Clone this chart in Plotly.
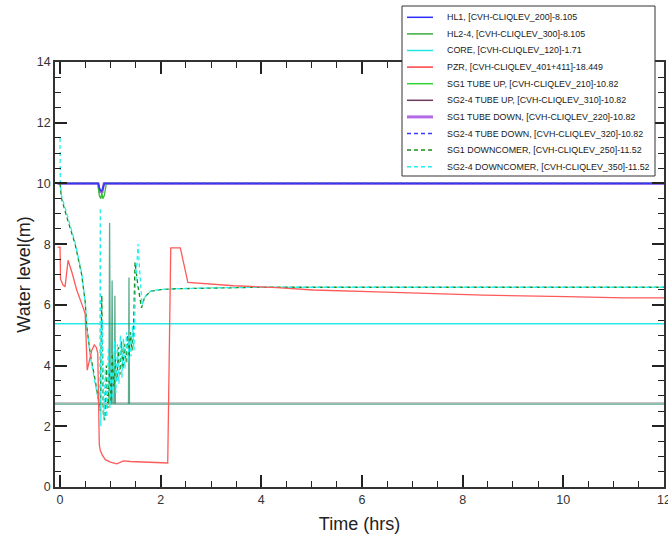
import plotly.graph_objects as go

# ---------------- data (time in hours, level in metres) ----------------
hl1_t = [-0.05, 0.76, 0.79, 0.82, 0.85, 0.88, 12.0]
hl1_v = [10.0, 10.0, 9.8, 9.75, 9.8, 10.0, 10.0]

hl24_t = [-0.05, 0.75, 0.78, 0.81, 0.83, 0.85, 0.88, 0.92, 12.0]
hl24_v = [10.0, 10.0, 9.6, 9.5, 9.7, 9.5, 9.6, 10.0, 10.0]

core_t = [-0.1, 12.0]
core_v = [5.38, 5.38]

pzr_t = [-0.05, 0.0, 0.01, 0.06, 0.1, 0.16, 0.24, 0.33, 0.46, 0.5, 0.54, 0.58,
         0.63, 0.68, 0.72, 0.75, 0.77, 0.78, 0.8, 0.84, 0.9, 1.0, 1.13, 1.2,
         1.26, 1.4, 1.66, 1.9, 2.14, 2.2, 2.39, 2.54, 2.84, 3.1, 3.45, 4.31,
         5.03, 6.3, 7.16, 8.41, 10.07, 11.2, 12.0]
pzr_v = [7.9, 7.9, 6.85, 6.65, 6.6, 7.47, 7.05, 6.5, 5.9, 5.7, 3.85, 4.1,
         4.5, 4.68, 4.6, 4.4, 2.5, 1.4, 1.2, 1.05, 0.9, 0.82, 0.76, 0.8,
         0.86, 0.84, 0.82, 0.8, 0.79, 7.88, 7.88, 6.74, 6.71, 6.68, 6.63, 6.57,
         6.49, 6.43, 6.38, 6.32, 6.27, 6.23, 6.23]

sg1_up_t = [-0.1, 0.97, 0.985, 1.0, 1.02, 1.035, 1.05, 1.08, 1.09, 1.1,
            1.36, 1.37, 1.38, 12.0]
sg1_up_v = [2.73, 2.73, 8.7, 2.73, 2.73, 6.8, 2.73, 2.73, 6.3, 2.73,
            2.73, 6.9, 2.73, 2.73]

sg24_up_t = [-0.1, 12.0]
sg24_up_v = [2.77, 2.77]

sg1_dn_t = [-0.05, 0.76, 0.79, 0.84, 0.87, 12.0]
sg1_dn_v = [10.0, 10.0, 9.72, 9.72, 10.0, 10.0]

sg24_dn_t = [-0.05, 0.76, 0.79, 0.84, 0.87, 12.0]
sg24_dn_v = [10.0, 10.0, 9.8, 9.8, 10.0, 10.0]

sg1_dc_t = [0.0, 0.03, 0.16, 0.30, 0.43, 0.50, 0.53, 0.60, 0.70, 0.76, 0.80,
            0.83, 0.86, 0.89, 0.92, 0.95, 0.98, 1.01, 1.04, 1.07, 1.10, 1.13,
            1.16, 1.19, 1.22, 1.25, 1.28, 1.31, 1.34, 1.37, 1.40, 1.43, 1.46,
            1.49, 1.55, 1.62, 1.68, 1.8, 2.0, 2.3, 3.0, 4.0, 12.0]
sg1_dc_v = [10.0, 9.5, 8.75, 8.0, 7.0, 6.1, 5.3, 4.4, 3.5, 2.9, 2.5,
            6.3, 2.4, 2.2, 4.0, 2.6, 3.8, 2.8, 4.4, 3.3, 4.2, 3.5,
            4.6, 3.7, 4.8, 3.9, 4.7, 4.1, 5.0, 4.3, 5.1, 4.5, 5.2,
            7.4, 6.6, 5.9, 6.25, 6.45, 6.5, 6.53, 6.56, 6.58, 6.58]

sg24_dc_t = [0.0, 0.005, 0.03, 0.16, 0.30, 0.43, 0.50, 0.53, 0.60, 0.70, 0.76,
             0.79, 0.80, 0.81, 0.84, 0.87, 0.90, 0.93, 0.96, 0.99, 1.02, 1.05,
             1.08, 1.11, 1.14, 1.17, 1.20, 1.23, 1.26, 1.29, 1.32, 1.35, 1.38,
             1.41, 1.44, 1.47, 1.50, 1.55, 1.58, 1.63, 1.70, 1.80, 1.95, 2.3,
             3.0, 4.0, 12.0]
sg24_dc_v = [11.5, 10.0, 9.6, 8.85, 8.05, 7.05, 6.1, 5.3, 4.3, 3.4, 2.9,
             2.6, 9.2, 2.0, 5.5, 2.2, 3.9, 2.3, 4.6, 2.6, 4.4, 2.9,
             4.8, 3.1, 4.7, 3.4, 5.0, 3.6, 4.9, 3.9, 5.1, 4.1, 5.2,
             4.3, 5.3, 4.5, 6.6, 8.0, 7.2, 6.0, 6.3, 6.45, 6.5, 6.53,
             6.56, 6.58, 6.58]

# name, t, v, legend colour, curve colour, width, dash, drawing order
series = [
    ("HL1, [CVH-CLIQLEV_200]-8.105", hl1_t, hl1_v, "#2b2bff", "#3030f0", 1.4, "solid", 2),
    ("HL2-4, [CVH-CLIQLEV_300]-8.105", hl24_t, hl24_v, "#3aaa3a", "#3aba3a", 1.3, "solid", 1),
    ("CORE, [CVH-CLIQLEV_120]-1.71", core_t, core_v, "#22e6e6", "#2ae8e8", 1.5, "solid", 3),
    ("PZR, [CVH-CLIQLEV_401+411]-18.449", pzr_t, pzr_v, "#ff4040", "#ff5a5a", 1.3, "solid", 9),
    ("SG1 TUBE UP, [CVH-CLIQLEV_210]-10.82", sg1_up_t, sg1_up_v, "#33d633", "rgba(50,150,110,0.8)", 1.3, "solid", 5),
    ("SG2-4 TUBE UP, [CVH-CLIQLEV_310]-10.82", sg24_up_t, sg24_up_v, "#6e3a62", "rgba(120,110,125,0.55)", 1.2, "solid", 4),
    ("SG1 TUBE DOWN, [CVH-CLIQLEV_220]-10.82", sg1_dn_t, sg1_dn_v, "#b36ae6", "#a060e0", 2.4, "solid", 0),
    ("SG2-4 TUBE DOWN, [CVH-CLIQLEV_320]-10.82", sg24_dn_t, sg24_dn_v, "#3a3aff", "#3a3aff", 1.3, "4px,3px", 8),
    ("SG1 DOWNCOMER, [CVH-CLIQLEV_250]-11.52", sg1_dc_t, sg1_dc_v, "#1a8a1a", "#1a8a1a", 1.3, "4px,3px", 6),
    ("SG2-4 DOWNCOMER, [CVH-CLIQLEV_350]-11.52", sg24_dc_t, sg24_dc_v, "#22f0f0", "#22f0f0", 1.3, "4px,3px", 7),
]

# plot-area geometry in pixels, used to place the hand-built legend
W, H = 668, 540
ML, MR, MT, MB = 55, 4, 62, 53
PW, PH = W - ML - MR, H - MT - MB


def px_x(p):
    return (p - ML) / PW


def px_y(p):
    return (H - MB - p) / PH


fig = go.Figure()
for name, t, v, lcol, ccol, width, dash, order in sorted(series, key=lambda s: s[7]):
    fig.add_trace(go.Scatter(
        x=t, y=v, mode="lines", name=name, showlegend=False,
        line=dict(color=ccol, width=width, dash=dash),
    ))

# legend box with line samples and labels
shapes = [dict(type="rect", xref="paper", yref="paper",
               x0=px_x(402), x1=px_x(655), y0=px_y(176), y1=px_y(6),
               line=dict(color="#333333", width=1), fillcolor="white", layer="above")]
annotations = []
for i, (name, t, v, lcol, ccol, width, dash, order) in enumerate(series):
    yc = 17.3 + 16.6 * i
    shapes.append(dict(type="line", xref="paper", yref="paper",
                       x0=px_x(407), x1=px_x(433), y0=px_y(yc), y1=px_y(yc),
                       line=dict(color=lcol, width=3 if width > 2 else 1.5, dash=dash),
                       layer="above"))
    annotations.append(dict(xref="paper", yref="paper", x=px_x(445), y=px_y(yc),
                            text=name, showarrow=False, xanchor="left", yanchor="middle",
                            font=dict(family="Liberation Sans, Arial", size=8.9, color="#1a1a1a")))

axis_common = dict(
    showline=True, linecolor="#333333", linewidth=1.5, mirror="ticks",
    ticks="inside", ticklen=12, tickwidth=1.5, tickcolor="#222222",
    showgrid=False, zeroline=False, ticklabeloverflow="allow", automargin=False,
    tickfont=dict(family="Liberation Sans, Arial", size=12.5, color="#333333"),
    minor=dict(ticks="inside", ticklen=6, tickwidth=1.2, tickcolor="#222222", dtick=0.5, showgrid=False),
)

fig.update_layout(
    width=W, height=H,
    margin=dict(l=ML, r=MR, t=MT, b=MB, autoexpand=False),
    paper_bgcolor="white", plot_bgcolor="white",
    font=dict(family="Liberation Sans, Arial", color="#222222"),
    xaxis=dict(range=[-0.1, 12.001], tick0=0, dtick=2,
               title=dict(text="Time (hrs)", font=dict(size=18, color="#222222"), standoff=12),
               **axis_common),
    yaxis=dict(range=[0, 14], tick0=0, dtick=2,
               title=dict(text="Water level(m)", font=dict(size=18, color="#222222"), standoff=2),
               **axis_common),
    shapes=shapes,
    annotations=annotations,
    showlegend=False,
)

fig.write_html("out.html")
